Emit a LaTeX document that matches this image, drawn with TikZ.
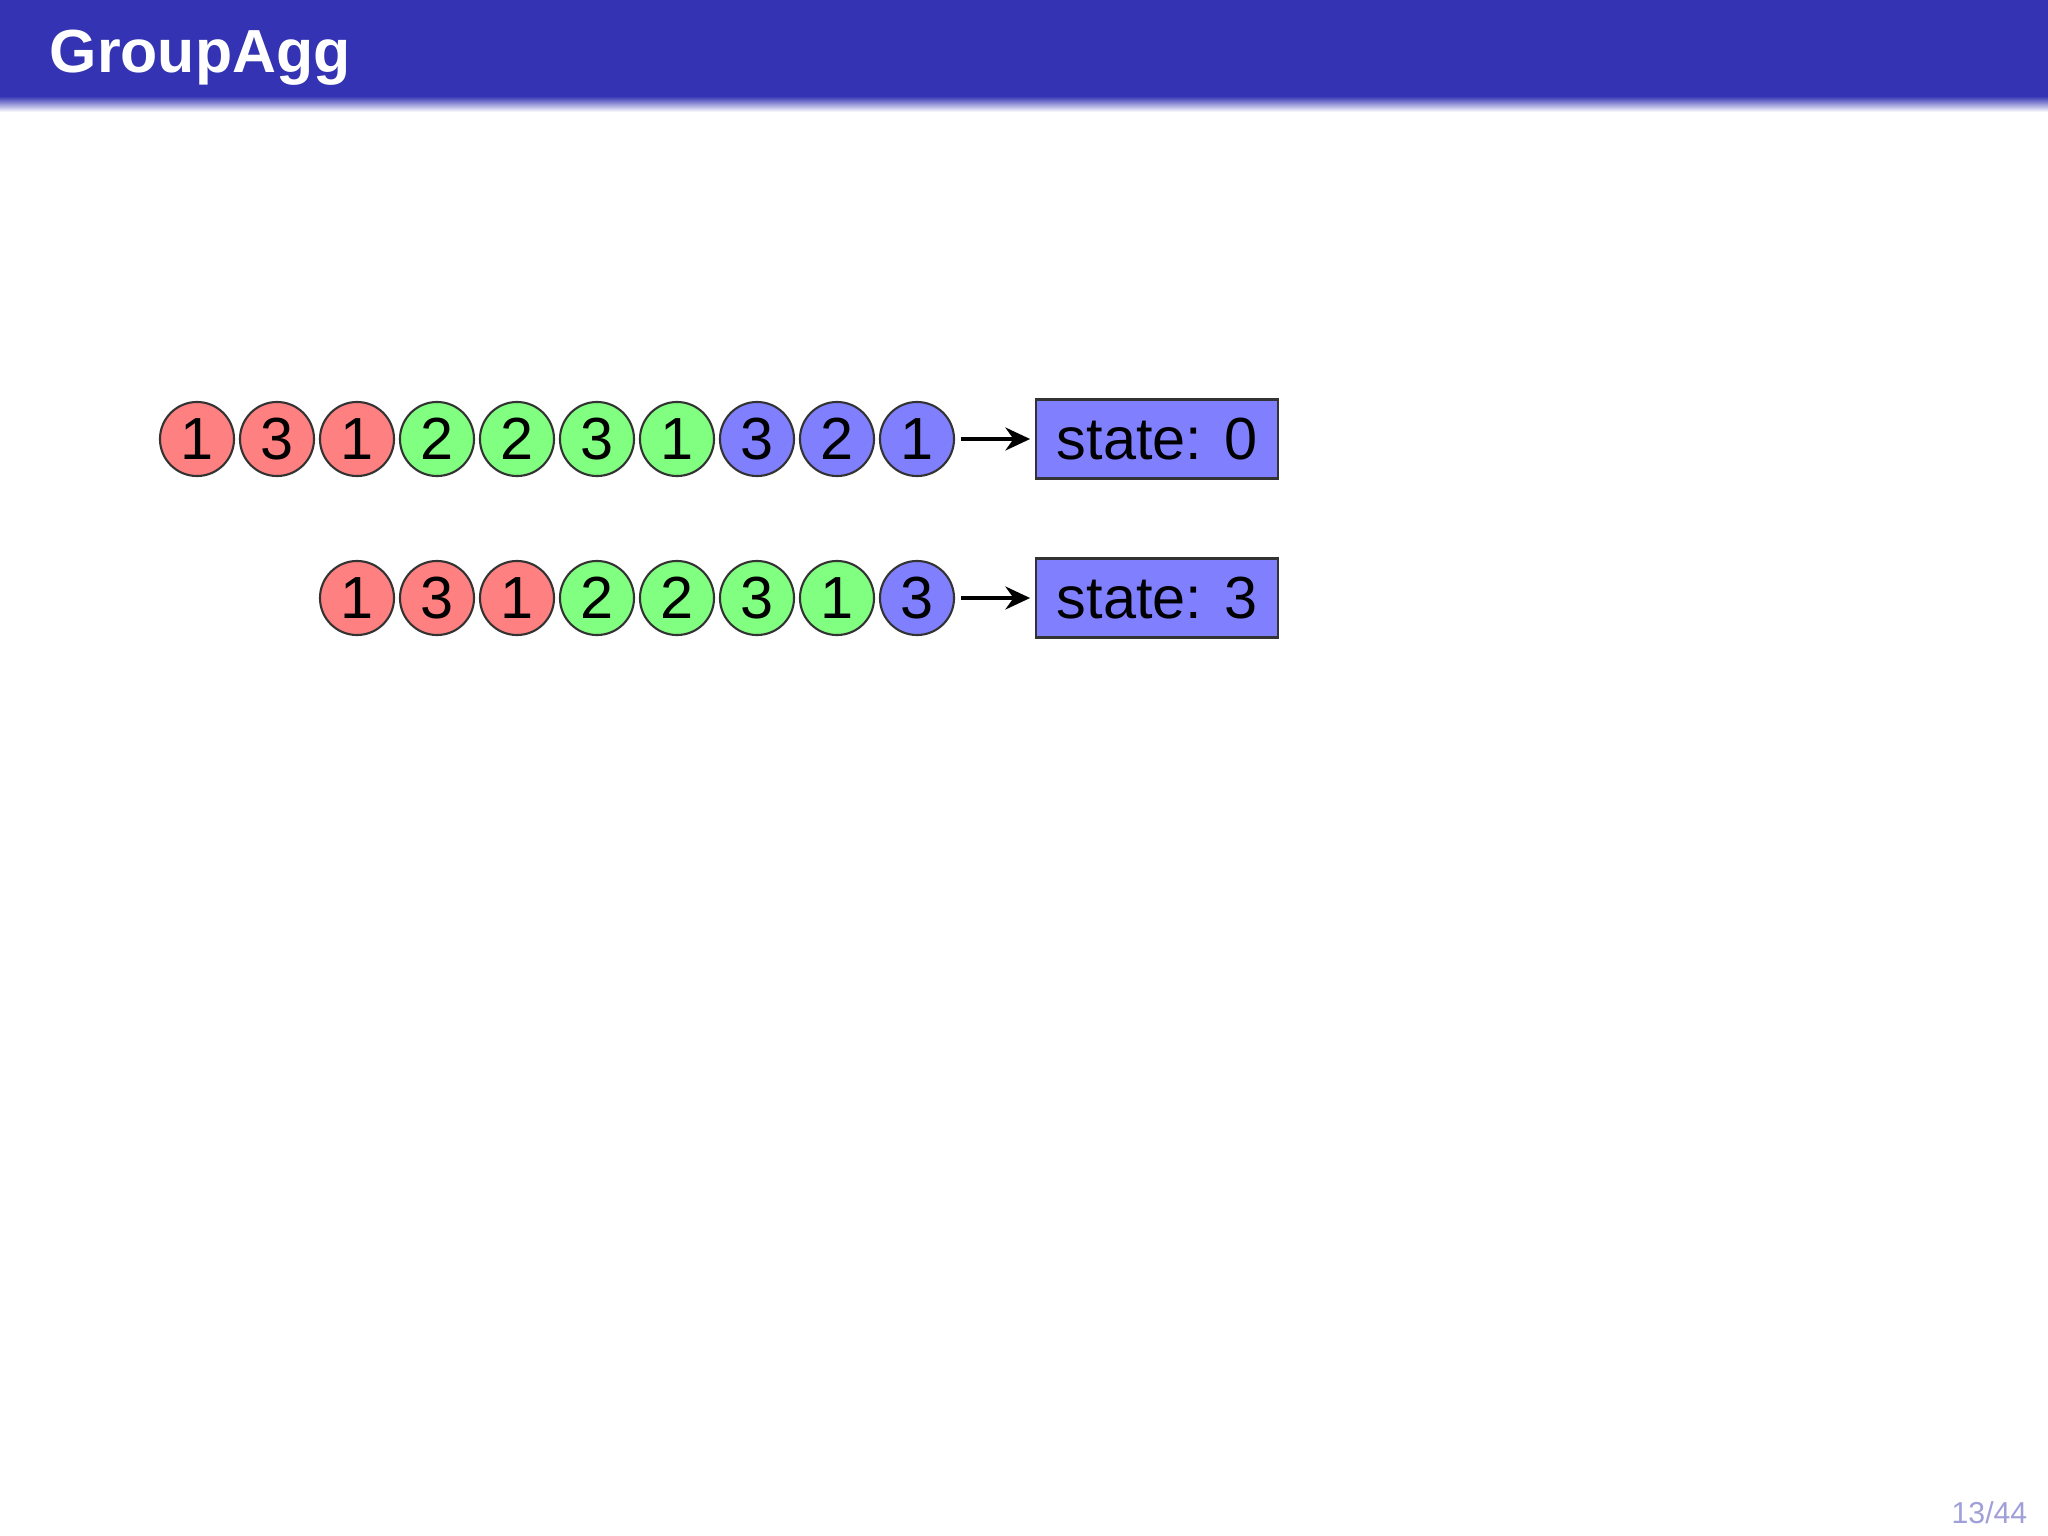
\documentclass[tikz,border=0pt]{standalone}
\usepackage{fontspec}
\setmainfont{Liberation Sans}
\usetikzlibrary{positioning,arrows.meta}

\definecolor{hdrblue}{RGB}{51,51,179}
\definecolor{pagecol}{RGB}{160,160,216}

\tikzset{
  ball/.style={circle, draw=black!80, line width=0.6pt, minimum size=0.74cm, inner sep=0pt,
    font=\fontsize{16.9}{20}\selectfont},
  statebox/.style={rectangle, draw=black!80, line width=0.6pt, fill=blue!50,
    minimum width=2.41cm, minimum height=0.79cm, inner sep=0pt,
    font=\fontsize{16.9}{20}\selectfont},
  flow/.style={-{Stealth[length=7pt,width=6.5pt]}, line width=1.2pt, shorten <=1.6pt, shorten >=1.5pt}
}

\begin{document}
\begin{tikzpicture}[x=0.01cm,y=-0.01cm]
  \useasboundingbox (0,0) rectangle (2048,1536);
  \fill[white] (0,0) rectangle (2048,1536);

  % frame title
  \fill[hdrblue] (0,0) rectangle (2048,96);
  \shade[top color=hdrblue, bottom color=white] (0,96) rectangle (2048,112);
  \node[anchor=base west, inner sep=0pt, text=white, font=\fontsize{17.3}{21}\selectfont\bfseries] (title) at (49,72) {GroupAgg};

  % full input
  \foreach \v/\c [count=\i] in {1/red,3/red,1/red,2/green,2/green,3/green,1/green,3/blue,2/blue,1/blue}
    \node[ball, fill=\c!50] (a\i) at ({197+80*(\i-1)},439) {\v};
  \node[statebox] (s1) at (1157,439) {state: 0};
  \draw[flow] (a10) -- (s1);

  % after two tuples
  \foreach \v/\c [count=\i] in {1/red,3/red,1/red,2/green,2/green,3/green,1/green,3/blue}
    \node[ball, fill=\c!50] (b\i) at ({357+80*(\i-1)},598) {\v};
  \node[statebox] (s2) at (1157,598) {state: 3};
  \draw[flow] (b8) -- (s2);

  % page number
  \node[anchor=base east, inner sep=0pt, text=pagecol, font=\fontsize{8.6}{10}\selectfont] (page) at (2028,1523) {13/44};
\end{tikzpicture}
\end{document}
